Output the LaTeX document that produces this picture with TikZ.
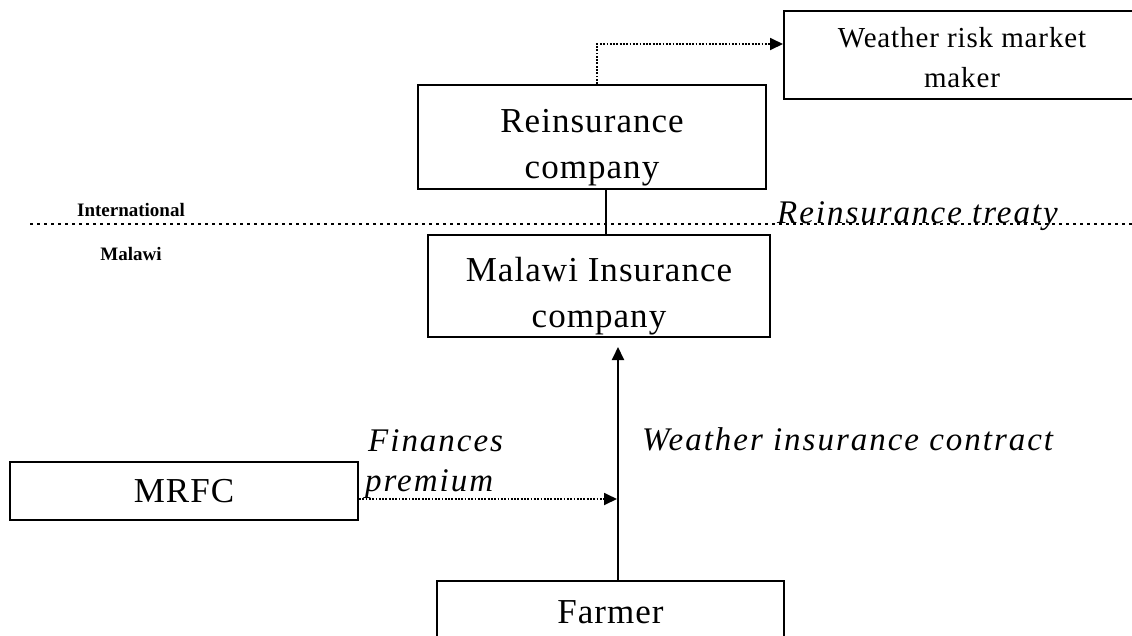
\documentclass[tikz,border=0pt]{standalone}
\usepackage{fontspec}
\setmainfont{Liberation Serif}
\newfontfamily\boxfont[LetterSpace=3]{Liberation Serif}
\newfontfamily\labfont[LetterSpace=6]{Liberation Serif}
\usetikzlibrary{arrows.meta,calc}
\newcommand{\dnlines}[2]{\raisebox{-#1}[\height][\depth]{\begin{tabular}{@{}c@{}}#2\end{tabular}}}
\begin{document}
\begin{tikzpicture}[x=1pt,y=-1pt,
  box/.style={draw, line width=2pt, rectangle, align=center, inner sep=0pt,
    font=\boxfont\fontsize{35}{46}\selectfont},
  sepline/.style={line width=2pt, dash pattern=on 3pt off 4pt},
  fine/.style={line width=1.8pt, dash pattern=on 1.8pt off 1.5pt},
  tip/.style={-{Triangle[length=13pt,width=12pt]}},
  lab/.style={font=\labfont\itshape\fontsize{33}{40}\selectfont, inner sep=0pt},
  small/.style={font=\bfseries\fontsize{19}{22}\selectfont, inner sep=0pt}]
\useasboundingbox (0,0) rectangle (1132,635);
\clip (0,0) rectangle (1132,635);
\fill[white] (0,0) rectangle (1132,635);

% separator
\coordinate (sepL) at (30,224);
\coordinate (sepR) at (1132,224);
\draw[sepline] (sepL) -- (sepR);

% boxes
\node[box, minimum width=356pt, minimum height=88pt,
  font=\boxfont\fontsize{29}{40}\selectfont] (weather) at (962,55) {\dnlines{4pt}{Weather risk market\\maker}};
\node[box, minimum width=348pt, minimum height=104pt] (rein) at (592,137) {\dnlines{9pt}{Reinsurance\\company}};
\node[box, minimum width=342pt, minimum height=102pt] (malawi) at (599,286) {\dnlines{9pt}{Malawi Insurance\\company}};
\node[box, minimum width=348pt, minimum height=58pt] (mrfc) at (184,491) {MRFC};
\node[box, minimum width=347pt, minimum height=62pt] (farmer) at (610.5,612) {Farmer};

% labels
\node[small] (intl) at (131,210) {International};
\node[small] (mlw) at (131,254) {Malawi};
\node[lab, anchor=base west] (treaty) at (777,223) {Reinsurance treaty};
\node[lab, anchor=base west] (fin) at (368,451) {Finances};
\node[lab, anchor=base west] (prem) at (365,491) {premium};
\node[lab, anchor=base west] (contract) at (642,450) {Weather insurance contract};

% connectors
\draw[fine, tip] ([xshift=5pt]rein.north) |- ([yshift=11pt]weather.west);
\draw[line width=2pt] ([xshift=14pt]rein.south) -- ([xshift=14pt]rein.south |- malawi.north);
\draw[line width=2pt, tip, shorten >=9pt] ([xshift=7.5pt]farmer.north) -- ([xshift=7.5pt]farmer.north |- malawi.south);
\coordinate (jn) at (617,499);
\draw[fine, tip] ([yshift=-8pt]mrfc.east) -- (jn);
\end{tikzpicture}
\end{document}
